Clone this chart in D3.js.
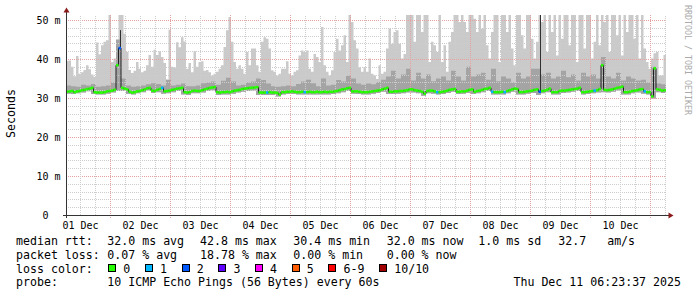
<!DOCTYPE html>
<html>
<head>
<meta charset="utf-8">
<script src="https://cdn.jsdelivr.net/npm/d3@7"></script>
<style>
  html, body { margin: 0; padding: 0; background: #fff; }
  svg { display: block; }
  text { font-family: "DejaVu Sans Mono", monospace; white-space: pre; }
</style>
</head>
<body>
<div id="chart"></div>
<script>
// hourly samples, Dec 01 06:23:37 -> Dec 11 06:23:37 (ms)
var smokeMax = [
  39.5, 39.6, 38.0, 35.6, 40.8, 36.2, 36.6, 37.2, 38.4, 37.4,
  36.0, 35.4, 44.2, 41.2, 43.5, 44.4, 44.8, 52, 39.2, 40.1,
  44.0, 52, 52, 46.5, 41.8, 37.2, 36.4, 37.0, 39.2, 37.5,
  36.6, 37.0, 38.4, 41.0, 38.0, 42.4, 41.0, 42.0, 40.5, 39.0,
  34.8, 47.5, 38.0, 37.8, 44.3, 43.0, 45.6, 44.5, 37.5, 39.0,
  36.6, 42.0, 38.0, 39.2, 39.4, 37.0, 37.2, 36.6, 35.8, 36.2,
  36.7, 37.5, 38.4, 43.1, 47.4, 50.8, 44.4, 39.2, 37.5, 38.4,
  37.5, 36.2, 41.8, 38.4, 42.7, 42.7, 38.4, 36.7, 44.4, 45.6,
  45.2, 42.7, 37.1, 36.7, 35.8, 36.2, 37.5, 37.5, 39.4, 36.2,
  35.8, 36.7, 37.1, 40.9, 42.2, 41.8, 42.2, 37.5, 36.7, 41.3,
  40.5, 39.2, 48.2, 38.4, 36.7, 35.8, 37.1, 41.8, 45.2, 42.2,
  43.5, 46.1, 39.2, 52, 49.5, 44.8, 42.7, 37.9, 36.7, 37.9,
  36.7, 40.1, 36.2, 35.8, 34.9, 38.4, 36.2, 36.7, 42.7, 47.8,
  43.9, 46.9, 47.4, 43.9, 40.1, 41.3, 52, 52, 52, 44.4,
  52, 52, 46.9, 52, 52, 39.2, 44.4, 43.5, 41.8, 52,
  39.2, 43.5, 36.7, 44.4, 46.9, 52, 52, 49.5, 52, 49.5,
  46.9, 52, 52, 50.3, 46.9, 52, 47.8, 52, 43.5, 40.1,
  46.9, 52, 52, 39.2, 52, 52, 46.9, 52, 42.7, 38.4,
  52, 52, 46.1, 42.7, 52, 52, 45.2, 40.1, 44.4, 52,
  49.5, 52, 41.8, 52, 46.9, 52, 40.9, 52, 45.2, 52,
  52, 43.5, 52, 52, 39.2, 52, 52, 42.7, 52, 52,
  40.1, 44.4, 52, 43.5, 52, 49.5, 52, 41.8, 52, 52,
  46.1, 52, 40.9, 52, 46.9, 52, 52, 45.2, 52, 40.1,
  52, 42.7, 39.2, 37.5, 40.1, 41.5, 41.8, 35.8, 35.8, 41.0
];

var median = [
  31.6, 31.7, 31.8, 31.5, 31.7, 31.8, 32.0, 32.1, 32.3, 32.4,
  32.6, 31.5, 31.4, 31.4, 31.4, 31.5, 31.7, 31.8, 31.9, 32.1,
  38.4, 42.8, 32.6, 32.4, 32.2, 31.6, 31.4, 31.5, 31.7, 31.8,
  32.0, 32.2, 32.5, 32.6, 31.9, 31.8, 32.1, 32.3, 32.6, 31.7,
  31.8, 31.9, 32.1, 32.2, 32.4, 32.5, 32.6, 31.5, 31.4, 31.5,
  31.8, 31.9, 31.8, 31.8, 32.0, 32.2, 32.4, 32.6, 32.7, 32.8,
  31.5, 31.4, 31.5, 31.5, 31.6, 31.5, 31.7, 31.9, 32.0, 32.1,
  32.3, 32.4, 32.5, 32.6, 32.6, 32.7, 32.8, 31.4, 31.4, 31.4,
  31.4, 31.5, 31.4, 31.4, 31.3, 30.9, 31.5, 31.5, 31.6, 31.6,
  31.7, 31.6, 31.5, 31.5, 31.6, 31.5, 31.5, 31.6, 31.5, 31.5,
  31.6, 31.5, 31.5, 31.6, 31.5, 31.6, 31.6, 31.7, 31.8, 32.0,
  32.2, 32.3, 32.5, 32.6, 31.7, 31.7, 31.7, 31.6, 31.5, 31.5,
  31.5, 31.6, 31.7, 31.8, 31.9, 32.0, 32.2, 32.4, 32.6, 31.6,
  31.6, 31.7, 31.7, 31.8, 31.8, 31.9, 32.0, 32.2, 32.2, 32.0,
  31.9, 31.8, 31.6, 31.1, 31.8, 31.9, 31.9, 31.7, 31.5, 31.5,
  31.6, 31.7, 31.9, 32.1, 32.2, 32.3, 31.6, 31.6, 31.7, 31.7,
  31.9, 32.1, 32.2, 31.6, 31.8, 31.9, 32.1, 32.3, 32.4, 32.6,
  31.6, 31.5, 31.5, 31.5, 31.6, 31.5, 31.8, 32.0, 32.2, 32.4,
  32.3, 31.5, 31.5, 31.6, 31.7, 31.8, 31.9, 32.1, 32.2, 31.6,
  31.8, 31.9, 32.1, 32.4, 31.5, 31.5, 31.5, 31.8, 31.9, 31.9,
  32.0, 32.1, 32.2, 32.3, 32.4, 32.6, 31.5, 31.5, 31.6, 31.7,
  31.8, 31.9, 32.0, 32.3, 38.4, 32.1, 32.0, 32.1, 32.2, 32.4,
  32.6, 32.7, 32.9, 31.5, 31.5, 31.6, 31.8, 31.9, 32.0, 32.2,
  32.3, 31.7, 31.5, 31.5, 30.4, 37.6, 32.2, 32.1, 31.9, 32.0
];

// two-hourly samples (ms)
var smokeMid = [
  33.2, 33.0, 32.9, 33.4, 33.2, 33.6, 32.9, 33.0, 33.2, 34.0,
  45.0, 35.0, 33.2, 32.9, 33.0, 33.2, 33.5, 33.8, 33.6, 33.2,
  34.6, 33.2, 33.4, 33.7, 33.0, 33.0, 33.2, 33.8, 34.0, 34.2,
  33.4, 34.4, 35.2, 34.2, 33.2, 33.4, 34.0, 34.2, 35.0, 34.6,
  33.7, 33.0, 32.9, 33.0, 33.2, 33.0, 33.6, 34.2, 34.7, 33.8,
  33.0, 35.0, 33.2, 33.4, 34.6, 34.2, 35.7, 35.0, 33.7, 33.4,
  33.7, 33.5, 34.1, 34.7, 35.5, 37.0, 35.0, 36.0, 37.5, 34.5,
  36.5, 35.0, 36.0, 34.3, 35.0, 35.5, 34.5, 37.0, 35.5, 34.5,
  38.0, 35.5, 36.0, 36.5, 34.7, 37.5, 34.3, 35.5, 35.0, 34.0,
  36.5, 35.0, 35.5, 37.5, 37.5, 36.0, 36.5, 35.0, 35.5, 37.0,
  35.3, 36.0, 34.5, 36.5, 35.5, 36.0, 35.0, 40.5, 35.5, 35.0,
  36.5, 34.5, 35.5, 35.0, 34.5, 34.7, 34.0, 38.0, 33.7, 33.5
];

var smokeLow = [
  31.1, 31.0, 31.2, 31.4, 31.7, 31.0, 30.9, 30.9, 31.1, 31.4,
  31.8, 31.8, 31.0, 30.9, 31.2, 31.5, 31.9, 31.3, 31.5, 31.1,
  31.2, 31.5, 31.8, 30.9, 30.8, 31.2, 31.2, 31.4, 31.8, 32.0,
  30.8, 30.9, 30.9, 31.1, 31.4, 31.6, 31.8, 31.9, 30.8, 30.8,
  30.8, 30.8, 30.4, 30.9, 31.0, 31.0, 30.9, 30.9, 30.9, 30.9,
  30.9, 30.9, 30.9, 31.0, 31.2, 31.5, 31.8, 31.1, 31.0, 30.9,
  30.9, 31.1, 31.3, 31.6, 31.0, 31.0, 31.1, 31.2, 31.4, 31.4,
  31.2, 30.6, 31.2, 31.1, 30.9, 31.0, 31.3, 31.6, 31.0, 31.1,
  31.3, 31.0, 31.2, 31.5, 31.8, 30.9, 30.9, 30.9, 31.2, 31.6,
  30.9, 30.9, 31.1, 31.3, 30.8, 31.2, 31.5, 30.9, 30.9, 31.3,
  31.4, 31.6, 31.8, 30.9, 31.0, 31.2, 31.4, 31.5, 31.4, 31.6,
  31.9, 30.9, 30.9, 31.2, 31.4, 31.1, 30.9, 29.9, 31.5, 31.3
];

// [hour index, lost pings out of 10]
var lossEvents = [[21, 2], [38, 1], [80, 1], [95, 1], [148, 1], [170, 1], [175, 1], [189, 2], [211, 1], [231, 1]];
// [hour index, top of the dark inner smoke band]
var coreSpikes = [[21, 47.4], [189, 51.5]];

var yTicks = [0, 10, 20, 30, 40, 50];
var lossLabels = ['0', '1', '2', '3', '4', '5', '6-9', '10/10'];
var lossColors = ['#26ff00', '#00b8ff', '#0059ff', '#5e00ff', '#ff00ff', '#ff5e00', '#ff0000', '#a10000'];
var rttItems = ['32.0 ms avg', '42.8 ms max', '30.4 ms min', '32.0 ms now', '1.0 ms sd', '32.7   am/s'];
var lossItems = ['0.07 % avg', '18.78 % max', '0.00 % min', '0.00 % now'];
var probeText = '10 ICMP Echo Pings (56 Bytes) every 60s';
var stampText = 'Thu Dec 11 06:23:37 2025';

var HOUR = 3600000;
var endTime = Date.UTC(2025, 11, 11, 6, 23, 37);
var startTime = endTime - 240 * HOUR;

var W = 697, H = 297;
var area = { left: 66, right: 666, top: 15, bottom: 215 };

var x = d3.scaleUtc().domain([startTime, endTime]).range([area.left, area.right]);
var y = d3.scaleLinear().domain([0, 50]).range([215, 20]);

function t(k) { return startTime + k * HOUR; }
function hourly(arr, k) { return arr[Math.min(k, arr.length - 1)]; }
function twoHourly(arr, k) { return arr[Math.min(Math.floor(k / 2), arr.length - 1)]; }
function lossColor(n) { return lossColors[n <= 5 ? n : (n < 10 ? 6 : 7)]; }
function px(v) { return Math.round(v) + 0.5; }

var lossByHour = {};
lossEvents.forEach(function(e) { lossByHour[e[0]] = e[1]; });

var svg = d3.select('#chart').append('svg')
  .attr('width', W)
  .attr('height', H);

svg.append('rect').attr('width', W).attr('height', H).attr('fill', '#fff');

svg.append('clipPath').attr('id', 'plot-clip')
  .append('rect')
  .attr('x', area.left).attr('y', area.top)
  .attr('width', area.right - area.left).attr('height', area.bottom - area.top);

var edges = d3.range(smokeMax.length + 1);

var smoke = svg.append('g').attr('clip-path', 'url(#plot-clip)');

// outer smoke: min .. max
smoke.append('path')
  .datum(edges)
  .attr('fill', '#cacaca')
  .attr('d', d3.area()
    .curve(d3.curveStepAfter)
    .x(function(k) { return x(t(k)); })
    .y0(function(k) { return y(twoHourly(smokeLow, k)); })
    .y1(function(k) { return y(hourly(smokeMax, k)); }));

// inner smoke
smoke.append('path')
  .datum(edges)
  .attr('fill', '#a4a4a4')
  .attr('d', d3.area()
    .curve(d3.curveStepAfter)
    .x(function(k) { return x(t(k)); })
    .y0(function(k) { return y(twoHourly(smokeLow, k)); })
    .y1(function(k) { return y(twoHourly(smokeMid, k)); }));

// grid
var grid = svg.append('g').attr('shape-rendering', 'crispEdges');

d3.range(2, 51, 2).forEach(function(v) {
  grid.append('line')
    .attr('x1', area.left).attr('x2', area.right)
    .attr('y1', px(y(v))).attr('y2', px(y(v)))
    .attr('stroke', v % 10 === 0 ? '#e8a0a0' : '#cdcdcd')
    .attr('stroke-dasharray', '1,1');
});

d3.utcHour.every(6).range(startTime, endTime).forEach(function(d) {
  var major = d.getUTCHours() === 0;
  grid.append('line')
    .attr('x1', px(x(d))).attr('x2', px(x(d)))
    .attr('y1', major ? 218 : area.bottom).attr('y2', area.top)
    .attr('stroke', major ? '#e8a0a0' : '#cdcdcd')
    .attr('stroke-dasharray', '1,1');
});

var plot = svg.append('g').attr('clip-path', 'url(#plot-clip)');

plot.selectAll('line.core')
  .data(coreSpikes)
  .enter().append('line')
  .attr('class', 'core')
  .attr('x1', function(d) { return px(x(t(d[0] + 0.5))); })
  .attr('x2', function(d) { return px(x(t(d[0] + 0.5))); })
  .attr('y1', function(d) { return y(median[d[0]]); })
  .attr('y2', function(d) { return y(d[1]); })
  .attr('stroke', '#303030')
  .attr('stroke-width', 1);

// dark median trace (shows at the jumps)
plot.append('path')
  .datum(edges)
  .attr('fill', 'none')
  .attr('stroke', '#202020')
  .attr('stroke-width', 1)
  .attr('d', d3.line()
    .curve(d3.curveStepAfter)
    .x(function(k) { return x(t(k)); })
    .y(function(k) { return y(hourly(median, k)); }));

// median coloured by packet loss
plot.selectAll('line.median')
  .data(d3.range(median.length))
  .enter().append('line')
  .attr('class', 'median')
  .attr('x1', function(k) { return x(t(k)); })
  .attr('x2', function(k) { return x(t(k + 1)); })
  .attr('y1', function(k) { return y(median[k]); })
  .attr('y2', function(k) { return y(median[k]); })
  .attr('stroke', function(k) { return lossColor(lossByHour[k] || 0); })
  .attr('stroke-width', 2.6);

// axes
var noons = d3.utcDay.range(Date.UTC(2025, 11, 1), Date.UTC(2025, 11, 11))
  .map(function(d) { return new Date(+d + 12 * HOUR); });

var xAxis = svg.append('g')
  .attr('transform', 'translate(0,' + area.bottom + ')')
  .call(d3.axisBottom(x).tickValues(noons).tickFormat(d3.utcFormat('%d %b')).tickSize(0).tickPadding(6.4));
xAxis.select('.domain').remove();

var yAxis = svg.append('g')
  .attr('transform', 'translate(' + area.left + ',0)')
  .call(d3.axisLeft(y).tickValues(yTicks).tickFormat(function(v) { return v === 0 ? '0  ' : v + ' m'; }).tickSize(0).tickPadding(5.5));
yAxis.select('.domain').remove();

svg.selectAll('.tick text')
  .attr('font-family', '"DejaVu Sans Mono", monospace')
  .attr('font-size', '10px')
  .attr('fill', '#000');

svg.append('line')
  .attr('x1', 63).attr('x2', 669)
  .attr('y1', area.bottom + 0.5).attr('y2', area.bottom + 0.5)
  .attr('stroke', '#333');
svg.append('line')
  .attr('x1', area.left + 0.5).attr('x2', area.left + 0.5)
  .attr('y1', 218).attr('y2', 12)
  .attr('stroke', '#333');
svg.append('path')
  .attr('d', 'M63.5,12.5L69.5,12.5L66.5,7.5Z')
  .attr('fill', '#8b1a1a');
svg.append('path')
  .attr('d', 'M668.5,212.5L668.5,218.5L673.5,215.5Z')
  .attr('fill', '#8b1a1a');

svg.append('text')
  .attr('transform', 'translate(15,113.5) rotate(-90)')
  .attr('text-anchor', 'middle')
  .attr('font-size', '11.6px')
  .text('Seconds');

svg.append('text')
  .attr('transform', 'translate(684.5,60) rotate(90)')
  .attr('text-anchor', 'middle')
  .attr('font-size', '8.3px')
  .attr('fill', '#aaaaaa')
  .text('RRDTOOL / TOBI OETIKER');

// legend
var cols = [107.3, 200, 293.3, 386.7, 478.3, 558.3];
var rows = [245, 258.8, 272.6, 286.4];
var legend = svg.append('g').attr('font-size', '11.6px').attr('fill', '#000');

legend.append('text').attr('x', 16).attr('y', rows[0]).text('median rtt:');
rttItems.forEach(function(s, i) {
  legend.append('text').attr('x', cols[i]).attr('y', rows[0]).text(s);
});

legend.append('text').attr('x', 16).attr('y', rows[1]).text('packet loss:');
lossItems.forEach(function(s, i) {
  legend.append('text').attr('x', cols[i]).attr('y', rows[1]).text(s);
});

legend.append('text').attr('x', 16).attr('y', rows[2]).text('loss color:');
var cursor = 108.3;
lossLabels.forEach(function(s, i) {
  legend.append('rect')
    .attr('x', Math.round(cursor) + 0.5).attr('y', 264.5)
    .attr('width', 7).attr('height', 7)
    .attr('fill', lossColors[i])
    .attr('stroke', '#000');
  legend.append('text').attr('x', cursor + 15).attr('y', rows[2]).text(s);
  cursor += 15 + s.length * 7 + 14.7;
});

legend.append('text').attr('x', 16).attr('y', rows[3]).text('probe:');
legend.append('text').attr('x', cols[0]).attr('y', rows[3]).text(probeText);
legend.append('text').attr('x', 681).attr('y', rows[3]).attr('text-anchor', 'end').text(stampText);
</script>
</body>
</html>
